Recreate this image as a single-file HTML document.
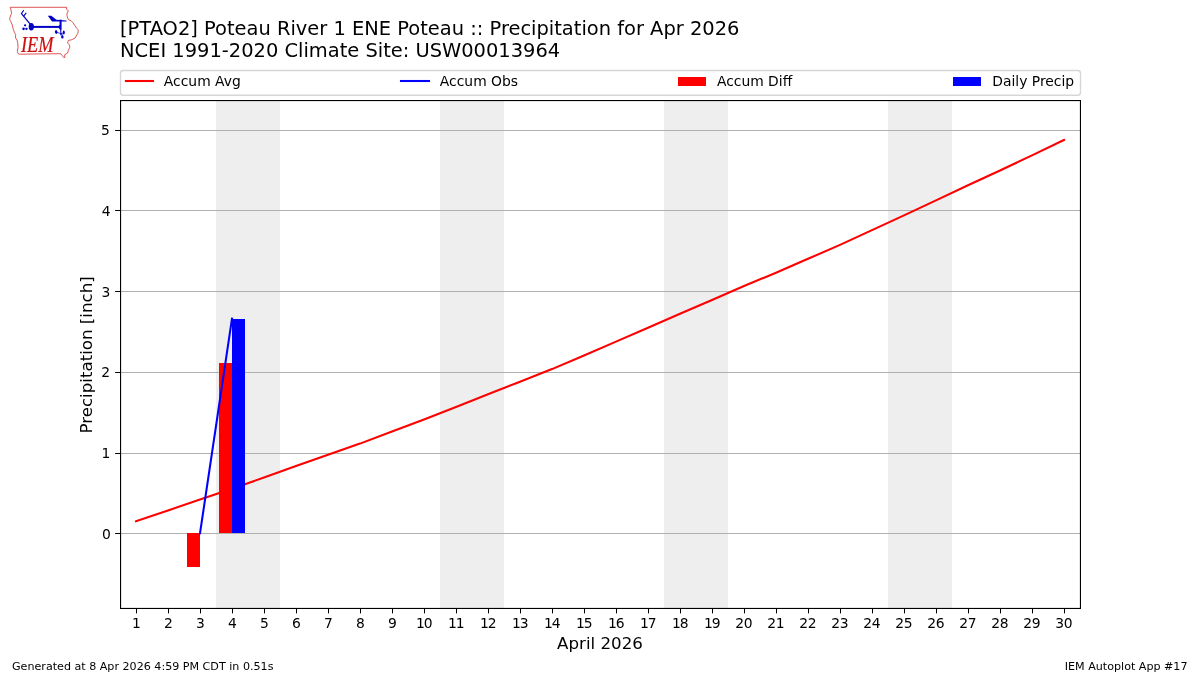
<!DOCTYPE html>
<html lang="en"><head><meta charset="utf-8"><title>[PTAO2] Poteau River 1 ENE Poteau :: Precipitation for Apr 2026</title>
<style>html,body{margin:0;padding:0;background:#fff;overflow:hidden}svg{display:block}text{white-space:pre}</style>
</head><body>
<svg width="1200" height="675" viewBox="0 0 1200 675" font-family="DejaVu Sans, Liberation Sans, sans-serif">
<rect x="0" y="0" width="1200" height="675" fill="#fff"/>
<rect x="216.0" y="100.5" width="64" height="508.0" fill="#eeeeee"/>
<rect x="440.0" y="100.5" width="64" height="508.0" fill="#eeeeee"/>
<rect x="664.0" y="100.5" width="64" height="508.0" fill="#eeeeee"/>
<rect x="888.0" y="100.5" width="64" height="508.0" fill="#eeeeee"/>
<rect x="120.5" y="533" width="960.0" height="1" fill="#b0b0b0"/>
<rect x="120.5" y="453" width="960.0" height="1" fill="#b0b0b0"/>
<rect x="120.5" y="372" width="960.0" height="1" fill="#b0b0b0"/>
<rect x="120.5" y="291" width="960.0" height="1" fill="#b0b0b0"/>
<rect x="120.5" y="210" width="960.0" height="1" fill="#b0b0b0"/>
<rect x="120.5" y="130" width="960.0" height="1" fill="#b0b0b0"/>
<polyline points="136.0,521.30 168.0,510.41 200.0,499.53 232.0,488.68 264.0,477.49 296.0,466.03 328.0,454.76 360.0,443.60 392.0,431.52 424.0,419.44 456.0,407.00 488.0,394.23 520.0,381.74 552.0,369.09 584.0,355.43 616.0,341.62 648.0,327.68 680.0,313.79 712.0,299.96 744.0,286.03 776.0,272.67 808.0,258.82 840.0,244.90 872.0,230.17 904.0,215.35 936.0,200.39 968.0,185.29 1000.0,170.47 1032.0,155.39 1064.0,139.90" fill="none" stroke="#ff0000" stroke-width="2.08" stroke-linecap="square" stroke-linejoin="round"/>
<rect x="187" y="533" width="13" height="34" fill="#ff0000"/>
<rect x="219" y="363" width="13" height="170" fill="#ff0000"/>
<rect x="232" y="319" width="13" height="214" fill="#0000ff"/>
<polyline points="200,533.40 232,318.60" fill="none" stroke="#0000ff" stroke-width="2.08" stroke-linecap="square"/>
<g fill="#000">
<rect x="120" y="100" width="961" height="1.1"/>
<rect x="120" y="607.9" width="961" height="1.1"/>
<rect x="120" y="100" width="1.1" height="509"/>
<rect x="1079.9" y="100" width="1.1" height="509"/>
<rect x="136" y="608.5" width="1" height="4.9"/>
<rect x="168" y="608.5" width="1" height="4.9"/>
<rect x="200" y="608.5" width="1" height="4.9"/>
<rect x="232" y="608.5" width="1" height="4.9"/>
<rect x="264" y="608.5" width="1" height="4.9"/>
<rect x="296" y="608.5" width="1" height="4.9"/>
<rect x="328" y="608.5" width="1" height="4.9"/>
<rect x="360" y="608.5" width="1" height="4.9"/>
<rect x="392" y="608.5" width="1" height="4.9"/>
<rect x="424" y="608.5" width="1" height="4.9"/>
<rect x="456" y="608.5" width="1" height="4.9"/>
<rect x="488" y="608.5" width="1" height="4.9"/>
<rect x="520" y="608.5" width="1" height="4.9"/>
<rect x="552" y="608.5" width="1" height="4.9"/>
<rect x="584" y="608.5" width="1" height="4.9"/>
<rect x="616" y="608.5" width="1" height="4.9"/>
<rect x="648" y="608.5" width="1" height="4.9"/>
<rect x="680" y="608.5" width="1" height="4.9"/>
<rect x="712" y="608.5" width="1" height="4.9"/>
<rect x="744" y="608.5" width="1" height="4.9"/>
<rect x="776" y="608.5" width="1" height="4.9"/>
<rect x="808" y="608.5" width="1" height="4.9"/>
<rect x="840" y="608.5" width="1" height="4.9"/>
<rect x="872" y="608.5" width="1" height="4.9"/>
<rect x="904" y="608.5" width="1" height="4.9"/>
<rect x="936" y="608.5" width="1" height="4.9"/>
<rect x="968" y="608.5" width="1" height="4.9"/>
<rect x="1000" y="608.5" width="1" height="4.9"/>
<rect x="1032" y="608.5" width="1" height="4.9"/>
<rect x="1064" y="608.5" width="1" height="4.9"/>
<rect x="115.1" y="533" width="5" height="1"/>
<rect x="115.1" y="453" width="5" height="1"/>
<rect x="115.1" y="372" width="5" height="1"/>
<rect x="115.1" y="291" width="5" height="1"/>
<rect x="115.1" y="210" width="5" height="1"/>
<rect x="115.1" y="130" width="5" height="1"/>
</g>
<g font-size="13.889px" fill="#000">
<text x="136.5" y="628" text-anchor="middle">1</text>
<text x="168.5" y="628" text-anchor="middle">2</text>
<text x="200.5" y="628" text-anchor="middle">3</text>
<text x="232.5" y="628" text-anchor="middle">4</text>
<text x="264.5" y="628" text-anchor="middle">5</text>
<text x="296.5" y="628" text-anchor="middle">6</text>
<text x="328.5" y="628" text-anchor="middle">7</text>
<text x="360.5" y="628" text-anchor="middle">8</text>
<text x="392.5" y="628" text-anchor="middle">9</text>
<text x="416.01 423.65" y="628">10</text>
<text x="448.01 455.65" y="628">11</text>
<text x="480.01 487.65" y="628">12</text>
<text x="512.01 519.65" y="628">13</text>
<text x="544.01 551.65" y="628">14</text>
<text x="576.01 583.65" y="628">15</text>
<text x="608.01 615.65" y="628">16</text>
<text x="640.01 647.65" y="628">17</text>
<text x="672.01 679.65" y="628">18</text>
<text x="704.01 711.65" y="628">19</text>
<text x="735.31 743.65" y="628">20</text>
<text x="767.31 775.65" y="628">21</text>
<text x="799.31 807.65" y="628">22</text>
<text x="831.31 839.65" y="628">23</text>
<text x="863.31 871.65" y="628">24</text>
<text x="895.31 903.65" y="628">25</text>
<text x="927.31 935.65" y="628">26</text>
<text x="959.31 967.65" y="628">27</text>
<text x="991.31 999.65" y="628">28</text>
<text x="1023.31 1031.65" y="628">29</text>
<text x="1055.31 1063.65" y="628">30</text>
<text x="110.75" y="538.75" text-anchor="end">0</text>
<text x="110.30" y="457.75" text-anchor="end">1</text>
<text x="110.10" y="376.75" text-anchor="end">2</text>
<text x="110.30" y="296.55" text-anchor="end">3</text>
<text x="110.70" y="215.75" text-anchor="end">4</text>
<text x="109.85" y="134.85" text-anchor="end">5</text>
</g>
<text x="600" y="648.9" font-size="16.667px" text-anchor="middle">April 2026</text>
<text transform="translate(92,354.9) rotate(-90)" font-size="16.667px" text-anchor="middle">Precipitation [inch]</text>
<text x="120" y="34.7" font-size="19.444px">[PTAO2] Poteau River 1 ENE Poteau :: Precipitation for Apr 2026</text>
<text x="120" y="56.8" font-size="19.444px">NCEI 1991-2020 Climate Site: USW00013964</text>
<text x="12" y="670" font-size="11.111px">Generated at 8 Apr 2026 4:59 PM CDT in 0.51s</text>
<text x="1187.5" y="670" font-size="11.111px" text-anchor="end">IEM Autoplot App #17</text>
<rect x="120.5" y="70.5" width="960" height="24.7" rx="2.8" ry="2.8" fill="#fff" fill-opacity="0.8" stroke="#cccccc" stroke-opacity="0.8" stroke-width="1.39"/>
<line x1="125.9" y1="81" x2="153" y2="81" stroke="#ff0000" stroke-width="2.08" stroke-linecap="square"/>
<line x1="401" y1="81" x2="429" y2="81" stroke="#0000ff" stroke-width="2.08" stroke-linecap="square"/>
<rect x="678" y="77" width="28" height="9" fill="#ff0000"/>
<rect x="953" y="77" width="28" height="9" fill="#0000ff"/>
<g font-size="13.889px" fill="#000">
<text x="163.85" y="85.9">Accum Avg</text>
<text x="439.85" y="85.9">Accum Obs</text>
<text x="716.9" y="85.9">Accum Diff</text>
<text x="992.3" y="85.9">Daily Precip</text>
</g>
<path d="M10.20,7.30 L66.70,7.30 L66.40,9.10 L68.40,10.70 L67.30,12.40 L66.90,15.10 L67.60,17.80 L68.40,19.60 L71.10,20.70 L72.90,22.70 L74.70,25.30 L76.40,28.00 L78.00,29.60 L78.20,31.60 L77.70,33.60 L76.20,36.00 L75.10,38.00 L71.80,39.70 L68.30,40.50 L67.60,43.10 L69.50,45.10 L69.80,47.30 L68.30,50.50 L67.60,53.10 L64.70,54.70 L64.90,57.30 L64.00,57.80 L62.20,55.60 L60.70,53.70 L40.00,53.90 L19.30,54.20 L18.20,53.60 L17.30,51.30 L18.00,47.80 L17.80,43.30 L17.10,40.20 L15.60,38.00 L15.60,34.40 L14.40,32.20 L13.30,29.40 L12.20,24.90 L10.90,21.80 L9.60,19.30 L10.40,16.00 L11.60,13.30 L10.90,9.80Z" fill="none" stroke="#d63a3a" stroke-opacity="0.85" stroke-width="1.0" stroke-linejoin="round"/>
<g stroke="#0000c8" fill="#0000c8" stroke-linecap="round">
<line x1="31.5" y1="26.9" x2="60.4" y2="26.9" stroke-width="2.0" stroke-linecap="butt"/>
<path d="M57.6,26.9 L60.2,24.6 L60.2,29.2 Z" stroke="none"/>
<ellipse cx="31.3" cy="26.7" rx="2.6" ry="3.75" stroke="none"/>
<line x1="30.6" y1="24.6" x2="21.5" y2="13.6" stroke-width="1.25"/>
<line x1="21.4" y1="13.5" x2="23.5" y2="10.7" stroke-width="1.1"/>
<line x1="23.9" y1="15.8" x2="26.0" y2="13.2" stroke-width="1.1"/>
<circle cx="25.1" cy="25.3" r="1.15" stroke="none"/>
<circle cx="23.55" cy="28.85" r="1.3" stroke="none"/>
<circle cx="26.45" cy="28.85" r="1.2" stroke="none"/>
<line x1="60.6" y1="19.6" x2="60.6" y2="29.5" stroke-width="2.0" stroke-linecap="butt"/>
<line x1="60.7" y1="29" x2="60.9" y2="35" stroke-width="1.1"/>
<path d="M47.8,15.8 L51.3,15.8 L56.4,19.8 L66.2,20.4 L66.7,21.4 L52.0,21.6 Z" stroke="none"/>
<ellipse cx="56.2" cy="32.0" rx="1.3" ry="1.9" stroke="none" transform="rotate(-15 56.2 32)"/>
<ellipse cx="63.8" cy="32.4" rx="1.05" ry="2.0" stroke="none"/>
<ellipse cx="62.4" cy="36.9" rx="1.25" ry="1.7" stroke="none"/>
<line x1="57" y1="32.3" x2="62.3" y2="34.2" stroke-width="0.7"/>
<line x1="61.5" y1="33.8" x2="62.4" y2="36.5" stroke-width="0.7"/>
<line x1="61" y1="33.6" x2="63.6" y2="33.0" stroke-width="0.6"/>
</g>
<text x="20.9" y="51.6" font-family="Liberation Serif, DejaVu Serif, serif" font-style="italic" font-size="22.4px" fill="#cc0f0f" stroke="#cc0f0f" stroke-width="0.2" textLength="32.6" lengthAdjust="spacingAndGlyphs">IEM</text>
</svg>
</body></html>
